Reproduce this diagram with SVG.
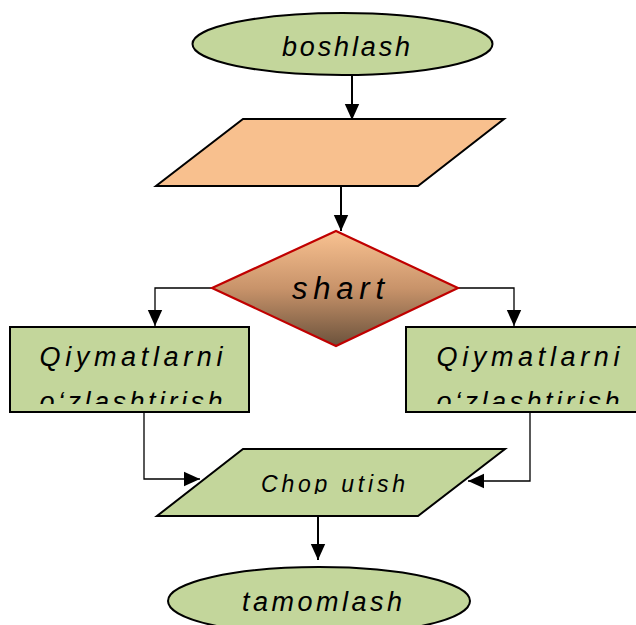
<svg xmlns="http://www.w3.org/2000/svg" width="636" height="625" viewBox="0 0 636 625">
  <style>
    .lbl { font-family: "Liberation Sans", "DejaVu Sans", sans-serif; font-style: italic; fill: #000; text-anchor: middle; }
    .green { fill: #C3D69B; stroke: #000; stroke-width: 2; }
    .orange { fill: #F8C08E; stroke: #000; stroke-width: 2; }
    .wire { fill: none; stroke: #000; stroke-width: 2; }
    .thin { fill: none; stroke: #000; stroke-width: 1.3; }
  </style>
  <defs>
    <marker id="arrowL" viewBox="0 0 10 10" refX="10" refY="5" markerWidth="16" markerHeight="16" markerUnits="userSpaceOnUse" orient="auto">
      <path d="M0,0.5 L10,5 L0,9.5 Z" fill="#000"/>
    </marker>
    <linearGradient id="condFill" x1="0" y1="0" x2="0" y2="1">
      <stop offset="0" stop-color="#F9C291"/>
      <stop offset="0.5" stop-color="#C8936A"/>
      <stop offset="1" stop-color="#6B523C"/>
    </linearGradient>
    <clipPath id="clipLeft"><rect x="11" y="328" width="237" height="76"/></clipPath>
    <clipPath id="clipRight"><rect x="407" y="328" width="229" height="76"/></clipPath>
    <clipPath id="clipPrint"><rect x="150" y="450" width="360" height="44"/></clipPath>
  </defs>

  <!-- connectors -->
  <g id="connectors">
    <line class="wire" x1="352" y1="75" x2="352" y2="120" marker-end="url(#arrowL)"/>
    <line class="wire" x1="341" y1="187" x2="341" y2="231" marker-end="url(#arrowL)"/>
    <polyline class="thin" points="212,288 155,288 155,326" marker-end="url(#arrowL)"/>
    <polyline class="thin" points="458,288 514,288 514,326" marker-end="url(#arrowL)"/>
    <polyline class="thin" points="144,413 144,479 200,479" marker-end="url(#arrowL)"/>
    <polyline class="thin" points="530,413 530,481 468,481" marker-end="url(#arrowL)"/>
    <line class="wire" x1="318" y1="517" x2="318" y2="560" marker-end="url(#arrowL)"/>
  </g>

  <g id="start">
    <ellipse class="green" cx="342.5" cy="44" rx="150" ry="31"/>
    <text class="lbl" x="346" y="56" font-size="27" textLength="128" lengthAdjust="spacing">boshlash</text>
  </g>

  <g id="input">
    <polygon class="orange" points="243,119 504,119 418,186 156,186"/>
  </g>

  <g id="condition">
    <polygon points="336,231 458,288 336,346 212,288" fill="url(#condFill)" stroke="#C00000" stroke-width="2.2"/>
    <text class="lbl" x="338" y="299" font-size="31" textLength="92" lengthAdjust="spacing">shart</text>
  </g>

  <g id="assign-left">
    <rect class="green" x="10" y="327" width="239" height="85"/>
    <g clip-path="url(#clipLeft)">
      <text class="lbl" x="131" y="366" font-size="27" textLength="183" lengthAdjust="spacing">Qiymatlarni</text>
      <text class="lbl" x="131" y="411" font-size="27" textLength="183" lengthAdjust="spacing">o‘zlashtirish</text>
    </g>
  </g>

  <g id="assign-right">
    <rect class="green" x="406" y="327" width="240" height="85"/>
    <g clip-path="url(#clipRight)">
      <text class="lbl" x="528" y="366" font-size="27" textLength="183" lengthAdjust="spacing">Qiymatlarni</text>
      <text class="lbl" x="528" y="411" font-size="27" textLength="183" lengthAdjust="spacing">o‘zlashtirish</text>
    </g>
  </g>

  <g id="print">
    <polygon class="green" points="243,449 505,449 418,516 157,516"/>
    <g clip-path="url(#clipPrint)">
      <text class="lbl" x="333" y="492" font-size="23" textLength="144" lengthAdjust="spacing">Chop utish</text>
    </g>
  </g>

  <g id="end">
    <ellipse class="green" cx="319" cy="601" rx="151" ry="34"/>
    <text class="lbl" x="322" y="611" font-size="27" textLength="160" lengthAdjust="spacing">tamomlash</text>
  </g>
</svg>
